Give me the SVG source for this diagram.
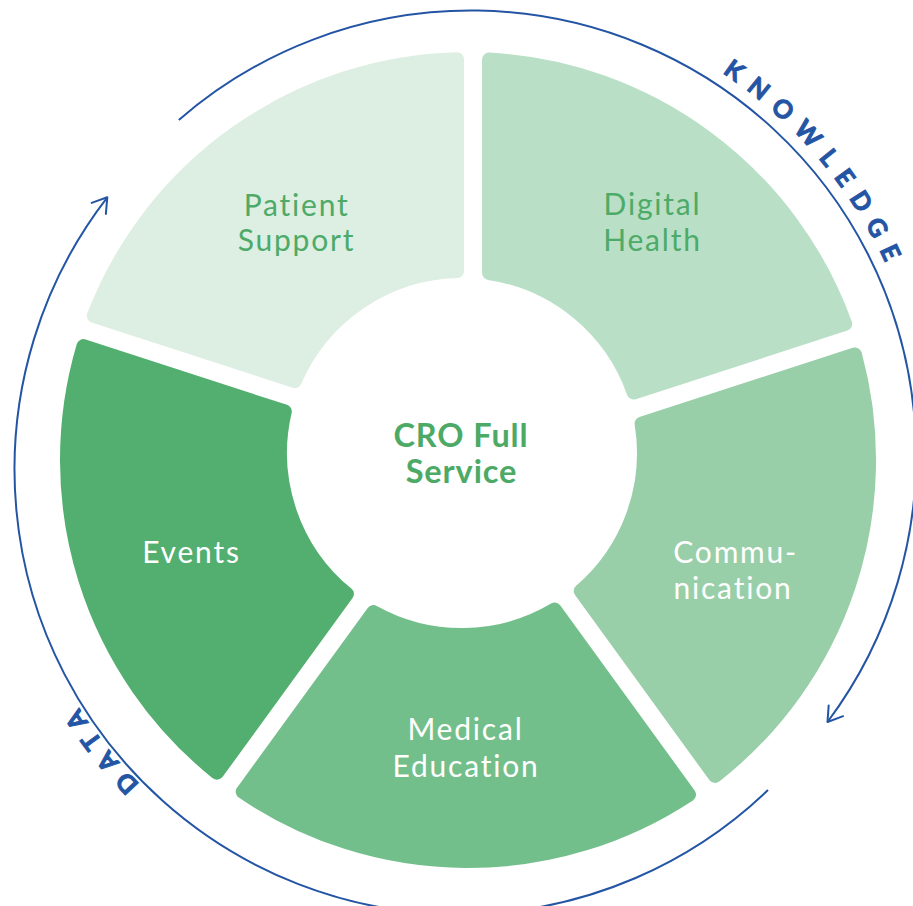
<svg xmlns="http://www.w3.org/2000/svg" width="913" height="906" viewBox="0 0 913 906">
<style>
  .seg { stroke-width: 14; stroke-linejoin: round; }
  .lbl { font-family: Lato, "Open Sans", "Liberation Sans", sans-serif; font-size: 30px; text-anchor: middle; letter-spacing: 1.8px; }
  .dark { fill: #4daa68; }
  .light { fill: #ffffff; }
  .center { font-family: Lato, "Open Sans", "Liberation Sans", sans-serif; font-size: 32.5px; font-weight: bold; fill: #4caa66; text-anchor: middle; letter-spacing: 0.9px; }
  .arc { fill: none; stroke: #2455a4; stroke-width: 2; }
  .ring { font-family: Lato, "Open Sans", "Liberation Sans", sans-serif; font-size: 25px; font-weight: bold; fill: #2455a4; stroke: #2455a4; stroke-width: 1px; letter-spacing: 11.5px; }
</style>
<defs>
  <marker id="arrow" markerUnits="userSpaceOnUse" viewBox="-20 -15 30 30" markerWidth="30" markerHeight="30" refX="0" refY="0" orient="auto" overflow="visible">
    <path d="M-14,-9 L0,0 L-14,9" fill="none" stroke="#2455a4" stroke-width="2" stroke-linecap="round" stroke-linejoin="round"/>
  </marker>
  <path id="kpath" d="M509.8,-2 A461,461 0 0 1 926,501.6"/>
  <path id="dpath" d="M411.4,916.7 A461,461 0 0 1 9.4,403.4"/>
</defs>

<g id="connectors">
  <path class="arc" d="M178.8,120 A445,445 0 0 1 827.5,722" marker-end="url(#arrow)"/>
  <path class="arc" d="M768,790 A445,445 0 0 1 107.3,197.3" marker-end="url(#arrow)"/>
</g>

<g id="label-knowledge">
  <text class="ring"><textPath href="#kpath" startOffset="360" text-anchor="middle">KNOWLEDGE</textPath></text>
</g>
<g id="label-data">
  <text class="ring" style="letter-spacing:11px"><textPath href="#dpath" startOffset="50%" text-anchor="middle">DATA</textPath></text>
</g>

<g id="digital-health">
  <path class="seg" fill="#b9e0c6" stroke="#b9e0c6" d="M489,59.6 A401,401 0 0 1 845.2,323.9 L633.7,392.6 A182,182 0 0 0 489,273 Z"/>
  <text class="lbl dark"><tspan x="652.5" y="215">Digital</tspan><tspan x="652.5" y="251">Health</tspan></text>
</g>

<g id="communication">
  <path class="seg" fill="#98cfa8" stroke="#98cfa8" d="M854.9,354.4 A401,401 0 0 1 715,775.9 L580.7,591 A182,182 0 0 0 641.6,423.7 Z"/>
  <text class="lbl light"><tspan x="735.7" y="563">Commu-</tspan><tspan x="733" y="599">nication</tspan></text>
</g>

<g id="medical-education">
  <path class="seg" fill="#73bf8b" stroke="#73bf8b" d="M689,794.6 A401,401 0 0 1 242.7,791.8 L373.4,612 A182,182 0 0 0 554.7,609.6 Z"/>
  <text class="lbl light"><tspan x="465.5" y="740">Medical</tspan><tspan x="466" y="777">Education</tspan></text>
</g>

<g id="events">
  <path class="seg" fill="#53af6f" stroke="#53af6f" d="M217,772.7 A401,401 0 0 1 83.5,346.1 L284.8,411.5 A182,182 0 0 0 346.9,594 Z"/>
  <text class="lbl light" x="191.5" y="563">Events</text>
</g>

<g id="patient-support">
  <path class="seg" fill="#ddeee3" stroke="#ddeee3" d="M93.8,315.8 A401,401 0 0 1 457,59.2 L457,271.1 A182,182 0 0 0 294.8,381.1 Z"/>
  <text class="lbl dark"><tspan x="296.7" y="216">Patient</tspan><tspan x="296.5" y="251">Support</tspan></text>
</g>

<g id="cro-full-service">
  <text class="center"><tspan x="461" y="447">CRO Full</tspan><tspan x="461.5" y="483">Service</tspan></text>
</g>
</svg>
